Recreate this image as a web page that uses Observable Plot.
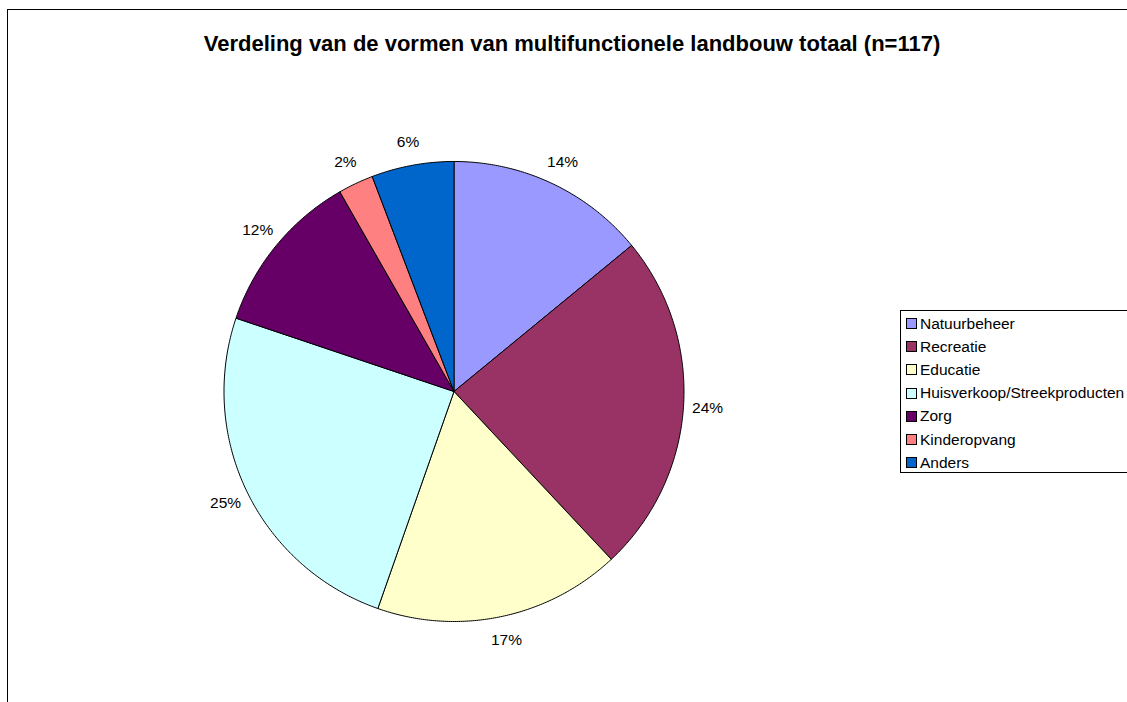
<!DOCTYPE html>
<html>
<head>
<meta charset="utf-8">
<script src="https://cdn.jsdelivr.net/npm/d3@7"></script>
<script src="https://cdn.jsdelivr.net/npm/@observablehq/plot@0.6"></script>
<style>
  html, body { margin: 0; padding: 0; background: #fff; }
  #wrap { position: relative; width: 1127px; height: 702px; overflow: hidden; font-family: "Liberation Sans", Arial, sans-serif; }
  #frame { position: absolute; left: 7px; top: 9px; width: 1200px; height: 800px; border-left: 1.5px solid #000; border-top: 1.5px solid #000; box-sizing: border-box; }
  #chart { position: absolute; left: 0; top: 0; }
  #legend { position: absolute; left: 900px; top: 310px; width: 260px; height: 163px; border: 1px solid #000; box-sizing: border-box; background: #fff; padding-top: 1px; }
  .item { height: 23.2px; display: flex; align-items: center; font-size: 15.5px; color: #000; }
  .sw { width: 9px; height: 9px; border: 1px solid #000; margin-left: 5px; margin-right: 3px; flex: none; }
</style>
</head>
<body>
<div id="wrap">
  <div id="frame"></div>
  <div id="chart"></div>
  <div id="legend"></div>
</div>
<script>
const title = "Verdeling van de vormen van multifunctionele landbouw totaal (n=117)";
const categories = ["Natuurbeheer", "Recreatie", "Educatie", "Huisverkoop/Streekproducten", "Zorg", "Kinderopvang", "Anders"];
const values = [17, 29, 21, 30, 14, 3, 7];
const colors = ["#9999FF", "#993366", "#FFFFCC", "#CCFFFF", "#660066", "#FF8080", "#0066CC"];

const total = d3.sum(values);
const arcs = d3.pie().sort(null).value(d => d.value)(categories.map((c, i) => ({category: c, value: values[i]})));

// Polygon outline of each slice in unit-circle coordinates (angle 0 = top, clockwise)
const slicePts = [];
for (const a of arcs) {
  const c = a.data.category;
  slicePts.push({category: c, x: 0, y: 0});
  const n = Math.max(2, Math.ceil((a.endAngle - a.startAngle) / (Math.PI / 360)));
  for (let k = 0; k <= n; k++) {
    const t = a.startAngle + (a.endAngle - a.startAngle) * k / n;
    slicePts.push({category: c, x: Math.sin(t), y: Math.cos(t)});
  }
  slicePts.push({category: c, x: 0, y: 0});
}

const labels = arcs.map(a => {
  const m = (a.startAngle + a.endAngle) / 2;
  return {x: 1.105 * Math.sin(m), y: 1.105 * Math.cos(m), text: Math.round(a.data.value / total * 100) + "%"};
});

const plot = Plot.plot({
  width: 1127,
  height: 702,
  margin: 0,
  style: {fontFamily: "'Liberation Sans', Arial, sans-serif", background: "transparent", overflow: "visible"},
  x: {domain: [-1, 1], range: [223.5, 683.5], axis: null},
  y: {domain: [-1, 1], range: [621, 161], axis: null},
  color: {domain: categories, range: colors, legend: false},
  marks: [
    Plot.line(slicePts, {x: "x", y: "y", z: "category", fill: "category", stroke: "#000", strokeWidth: 1, strokeLinejoin: "round"}),
    Plot.text(labels, {x: "x", y: "y", text: "text", fontSize: 15.5, fill: "#000"}),
    Plot.text([title], {frameAnchor: "top", lineAnchor: "middle", dx: 8, dy: 43, text: d => d, fontSize: 22, fontWeight: "bold", fill: "#000"})
  ]
});
document.getElementById("chart").appendChild(plot);

const legend = document.getElementById("legend");
categories.forEach((c, i) => {
  const row = document.createElement("div");
  row.className = "item";
  const sw = document.createElement("span");
  sw.className = "sw";
  sw.style.background = colors[i];
  const tx = document.createElement("span");
  tx.textContent = c;
  row.appendChild(sw);
  row.appendChild(tx);
  legend.appendChild(row);
});
</script>
</body>
</html>
